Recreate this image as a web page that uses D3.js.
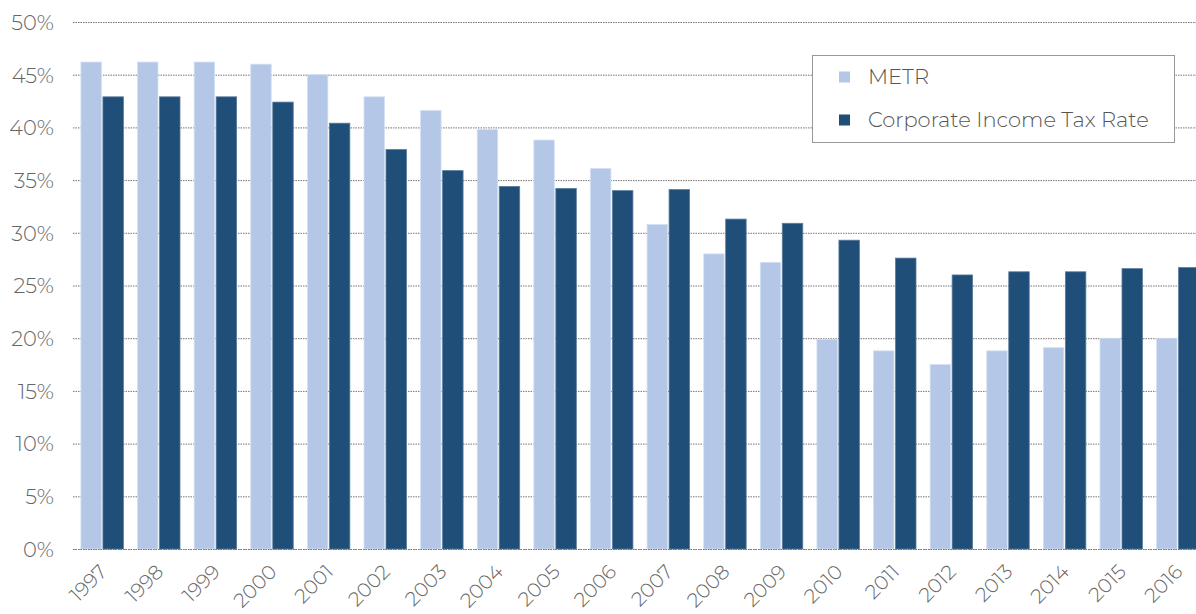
<!DOCTYPE html>
<html><head><meta charset="utf-8">
<script src="https://cdn.jsdelivr.net/npm/d3@7"></script>
<style>body{margin:0;background:#fff}svg{display:block}</style>
</head><body>
<svg id="chart" width="1196" height="614"></svg>
<script>
const years = ["1997","1998","1999","2000","2001","2002","2003","2004","2005","2006","2007","2008","2009","2010","2011","2012","2013","2014","2015","2016"];
const metr = [46.2,46.2,46.2,46.0,45.0,42.9,41.6,39.8,38.8,36.1,30.8,28.0,27.2,19.9,18.8,17.5,18.8,19.1,20.0,20.0];
const citRate = [42.9,42.9,42.9,42.4,40.4,37.9,35.9,34.4,34.2,34.0,34.1,31.3,30.9,29.3,27.6,26.0,26.3,26.3,26.6,26.7];
const yTicks = [0,5,10,15,20,25,30,35,40,45,50];
const seriesNames = ["METR","Corporate Income Tax Rate"];
const colors = ["#b4c7e7","#1f4e79"];

const svg = d3.select("#chart");
const font = "'Montserrat','Lato','Open Sans',sans-serif";
const y = d3.scaleLinear().domain([0,50]).range([549,22]);
const x = d3.scaleBand().domain(years).range([73,1207]).paddingInner(0.25).paddingOuter(0.14);
const xs = d3.scaleBand().domain([0,1]).range([0,x.bandwidth()]).paddingInner(0.07);

// gridlines
svg.append("g").selectAll("line").data(yTicks).join("line")
  .attr("x1",73).attr("x2",1196).attr("y1",d=>y(d)+0.5).attr("y2",d=>y(d)+0.5)
  .attr("stroke","#777").attr("stroke-width",1).attr("stroke-dasharray","1.5,1");

// y labels
const yAxis = d3.axisLeft(y).tickValues(yTicks).tickFormat(d=>d+"%").tickSize(0).tickPadding(0);
const ya = svg.append("g").attr("transform","translate(54,0)").call(yAxis);
ya.select(".domain").remove();
ya.selectAll("text").attr("fill","#666").style("font-family",font).style("font-size","21px").style("font-weight",300).attr("dy","0.35em");

// bars
const data = years.map((yr,i)=>({yr,vals:[metr[i],citRate[i]]}));
const g = svg.append("g");
const grp = g.selectAll("g").data(data).join("g").attr("transform",d=>`translate(${x(d.yr)},0)`);
grp.selectAll("rect").data(d=>d.vals.map((v,j)=>({v,j}))).join("rect")
  .attr("x",d=>xs(d.j)).attr("width",xs.bandwidth())
  .attr("y",d=>y(d.v)).attr("height",d=>y(0)-y(d.v))
  .attr("fill",d=>colors[d.j]).attr("stroke",d=>d.j?"#5a7a9c":"#d4e0f3").attr("stroke-width",0.8);

// baseline dotted on top
svg.append("line").attr("x1",73).attr("x2",1196).attr("y1",y(0)+0.5).attr("y2",y(0)+0.5)
  .attr("stroke","#777").attr("stroke-dasharray","1.5,1");

// x labels
const xa = svg.append("g");
xa.selectAll("text").data(years).join("text")
  .attr("transform",d=>`translate(${x(d)+x.bandwidth()/2+1},568) rotate(-45)`)
  .attr("text-anchor","end").attr("dy","0.35em")
  .attr("fill","#666").style("font-family",font).style("font-size","20px").style("font-weight",300).text(d=>d);

// legend
const lg = svg.append("g");
lg.append("rect").attr("x",812.5).attr("y",55.5).attr("width",362).attr("height",87)
  .attr("fill","#fff").attr("stroke","#999").attr("stroke-width",1);
seriesNames.forEach((n,i)=>{
  const cy = 77 + i*43;
  lg.append("rect").attr("x",839).attr("y",cy-5.5).attr("width",11).attr("height",11).attr("fill",colors[i]);
  lg.append("text").attr("x",868).attr("y",cy).attr("dy","0.35em").attr("fill","#555")
    .style("font-family",font).style("font-size","21px").style("font-weight",300).text(n);
});
</script>
</body></html>
